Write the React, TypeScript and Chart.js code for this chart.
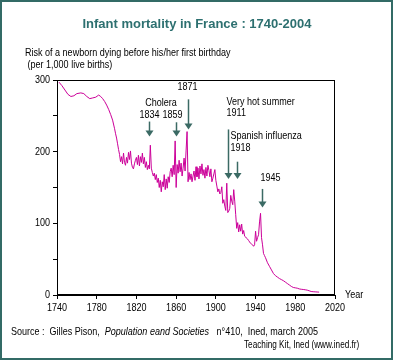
import { useEffect, useRef } from "react";
import { Chart, registerables } from "chart.js";

Chart.register(...registerables);

// ---- Data ----
const years = [
  1742, 1745, 1748, 1751, 1754, 1757, 1760, 1764, 1767, 1770, 1773, 1776, 1779, 1782, 1784, 1786, 1788, 1790, 1792, 1794, 1796, 1798, 1799,
  1800, 1801, 1802, 1803, 1804, 1805, 1806, 1807, 1808, 1809,
  1810, 1811, 1812, 1813, 1814, 1815, 1816, 1817, 1818, 1819,
  1820, 1821, 1822, 1823, 1824, 1825, 1826, 1827, 1828, 1829,
  1830, 1831, 1832, 1833, 1834, 1835, 1836, 1837, 1838, 1839,
  1840, 1841, 1842, 1843, 1844, 1845, 1846, 1847, 1848, 1849,
  1850, 1851, 1852, 1853, 1854, 1855, 1856, 1857, 1858, 1859,
  1860, 1861, 1862, 1863, 1864, 1865, 1866, 1867, 1868, 1869,
  1870, 1871, 1872, 1873, 1874, 1875, 1876, 1877, 1878, 1879,
  1880, 1881, 1882, 1883, 1884, 1885, 1886, 1887, 1888, 1889,
  1890, 1891, 1892, 1893, 1894, 1895, 1896, 1897, 1898, 1899,
  1900, 1901, 1902, 1903, 1904, 1905, 1906, 1907, 1908, 1909,
  1910, 1911, 1912, 1913, 1914, 1915, 1916, 1917, 1918, 1919,
  1920, 1921, 1922, 1923, 1924, 1925, 1926, 1927, 1928, 1929,
  1930, 1931, 1932, 1933, 1934, 1935, 1936, 1937, 1938, 1939,
  1940, 1941, 1942, 1943, 1944, 1945, 1946, 1947, 1948, 1949,
  1950, 1952, 1954, 1956, 1958, 1960, 1962, 1964, 1966, 1968,
  1970, 1972, 1974, 1976, 1978, 1980, 1982, 1984, 1986, 1988,
  1990, 1992, 1994, 1996, 1998, 2000, 2002, 2004,
];

const rates = [
  297, 292, 286, 280, 277, 278, 281, 282, 281, 277, 274, 275, 276, 279, 277, 274, 270, 265, 259, 252, 244, 232, 225,
  219, 211, 203, 196, 186, 193, 183, 198, 185, 181,
  192, 184, 199, 189, 201, 184, 178, 176, 183, 188,
  192, 182, 195, 180, 193, 185, 198, 183, 192, 178,
  186, 175, 181, 176, 209, 177, 171, 166, 170, 161,
  168, 157, 163, 150, 160, 144, 158, 151, 168, 147,
  162, 149, 165, 157, 172, 177, 165, 181, 168, 215,
  150, 182, 170, 188, 172, 184, 166, 177, 191, 173,
  201, 228, 158, 171, 161, 169, 158, 166, 173, 160,
  179, 165, 177, 162, 180, 169, 183, 167, 175, 163,
  178, 166, 181, 174, 165, 176, 158, 163, 169, 175,
  160, 152, 144, 148, 141, 143, 151, 128, 133, 124,
  118, 156, 115, 117, 121, 139, 131, 126, 147, 131,
  112, 93, 101, 88, 98, 89, 99, 85, 90, 82,
  81, 79, 78, 76, 74, 72, 71, 70, 68, 70,
  89, 75, 80, 84, 102, 114, 80, 70, 58, 55,
  52, 45, 40, 35, 30, 27, 25, 23, 21.5, 20,
  18, 16, 14, 12, 10.5, 10, 9.5, 8.5, 8, 7.7,
  7.3, 6.8, 5.9, 4.9, 4.6, 4.4, 4.2, 4.0,
];

const xTickValues = [1740, 1780, 1820, 1860, 1900, 1940, 1980, 2020];
const yTickValues = [0, 50, 100, 150, 200, 250, 300];
const yLabelledTicks = [0, 100, 200, 300];

// event arrows: x (year), arrow start value, arrow tip value
const eventYears = [1833, 1859.5, 1871.6, 1911.9, 1920.8, 1946.8];
const arrowTopValues = [242, 241, 273, 231, 186, 148];
const arrowTipValues = [221, 221, 231, 162, 162, 122];
const eventLabels = [
  ["1834"],
  ["1859"],
  ["1871"],
  ["Very hot summer", "1911"],
  ["Spanish influenza", "1918"],
  ["1945"],
];
const choleraLabel = "Cholera";

const titleText = "Infant mortality in France : 1740-2004";
const yTitleLines = ["Risk of a newborn dying before his/her first birthday", " (per 1,000 live births)"];
const xTitleText = "Year";
const sourceParts = ["Source :  Gilles Pison,  ", "Population eand Societies", "   n°410,  Ined, march 2005"];
const creditText = "Teaching Kit, Ined (www.ined.fr)";

const FONT = "'Liberation Sans', Arial, sans-serif";
const SX = 0.82; // narrow rendering of the small sans text
const ARROW = "#3b6a64";
const TEAL = "#2d7070";

function drawText(ctx: any, text: string, x: number, y: number, align: string, font: string) {
  ctx.save();
  ctx.font = font;
  const w = ctx.measureText(text).width * SX;
  const left = align === "center" ? x - w / 2 : align === "right" ? x - w : x;
  ctx.translate(left, y);
  ctx.scale(SX, 1);
  ctx.textAlign = "left";
  ctx.textBaseline = "middle";
  ctx.fillText(text, 0, 0);
  ctx.restore();
  return w;
}

const decorPlugin = {
  id: "decor",
  beforeDraw(chart: any) {
    const ctx = chart.ctx;
    ctx.save();
    ctx.fillStyle = "#ffffff";
    ctx.fillRect(0, 0, chart.width, chart.height);
    ctx.restore();
  },
  afterDraw(chart: any) {
    const { ctx, chartArea: a, scales } = chart;
    const x = scales.x;
    const y = scales.y;
    const f11 = `11px ${FONT}`;
    ctx.save();

    // plot frame
    ctx.strokeStyle = "#000";
    ctx.lineWidth = 1;
    ctx.strokeRect(Math.round(a.left) + 0.5, Math.round(a.top) + 0.5, Math.round(a.right - a.left) - 1, Math.round(a.bottom - a.top) - 1);

    // tick labels from the scales
    ctx.fillStyle = "#000";
    x.ticks.forEach((t: any) => {
      drawText(ctx, String(t.value), x.getPixelForValue(t.value), a.bottom + 13, "center", f11);
    });
    y.ticks.forEach((t: any) => {
      if (yLabelledTicks.includes(t.value)) {
        drawText(ctx, String(t.value), a.left - 7, y.getPixelForValue(t.value), "right", f11);
      }
    });

    // arrows
    ctx.fillStyle = ARROW;
    ctx.strokeStyle = ARROW;
    const pts = eventYears.map((yr, i) => ({
      x: Math.round(x.getPixelForValue(yr)) + 0.5,
      top: y.getPixelForValue(arrowTopValues[i]),
      tip: y.getPixelForValue(arrowTipValues[i]),
    }));
    pts.forEach((p) => {
      ctx.lineWidth = 1.5;
      ctx.beginPath();
      ctx.moveTo(p.x, p.top);
      ctx.lineTo(p.x, p.tip - 5);
      ctx.stroke();
      ctx.beginPath();
      ctx.moveTo(p.x - 4, p.tip - 6);
      ctx.lineTo(p.x + 4, p.tip - 6);
      ctx.lineTo(p.x, p.tip);
      ctx.closePath();
      ctx.fill();
    });

    // event labels
    ctx.fillStyle = "#000";
    const place = [
      { dx: 0, dy: [-7], align: "center" },
      { dx: -4, dy: [-7], align: "center" },
      { dx: -1, dy: [-12], align: "center" },
      { dx: -2, dy: [-27, -16], align: "left" },
      { dx: -7, dy: [-26, -14], align: "left" },
      { dx: -2, dy: [-11], align: "left" },
    ];
    eventLabels.forEach((lines, i) => {
      const p = pts[i];
      const pl = place[i];
      lines.forEach((t, j) => drawText(ctx, t, p.x + pl.dx, p.top + pl.dy[j], pl.align, f11));
    });
    drawText(ctx, choleraLabel, (pts[0].x + pts[1].x) / 2 - 2, pts[0].top - 19, "center", f11);

    // title
    ctx.fillStyle = TEAL;
    ctx.font = `bold 13px ${FONT}`;
    ctx.textAlign = "center";
    ctx.textBaseline = "middle";
    ctx.fillText(titleText, 197, 24);

    // y axis title
    ctx.fillStyle = "#000";
    drawText(ctx, yTitleLines[0], 25, 53, "left", f11);
    drawText(ctx, yTitleLines[1], 25, 65, "left", f11);

    // x axis title
    drawText(ctx, xTitleText, a.right + 10, a.bottom, "left", f11);

    // source
    let sx = 11;
    const sy = 332;
    sx += drawText(ctx, sourceParts[0], sx, sy, "left", f11);
    sx += drawText(ctx, sourceParts[1], sx, sy, "left", `italic 11px ${FONT}`);
    drawText(ctx, sourceParts[2], sx, sy, "left", f11);

    drawText(ctx, creditText, 244, 345, "left", `10px ${FONT}`);

    // outer border
    ctx.strokeStyle = "#336b66";
    ctx.lineWidth = 2;
    ctx.strokeRect(1, 1, chart.width - 2, chart.height - 2);

    ctx.restore();
  },
};

export default function App() {
  const ref = useRef<HTMLCanvasElement | null>(null);

  useEffect(() => {
    document.body.style.margin = "0";
    const canvas = ref.current;
    if (!canvas) return;
    const chart = new Chart(canvas, {
      type: "line",
      data: {
        datasets: [
          {
            data: years.map((yr, i) => ({ x: yr, y: rates[i] })),
            borderColor: "#cc0099",
            borderWidth: 1,
            pointRadius: 0,
            tension: 0,
            fill: false,
          },
        ],
      },
      options: {
        responsive: false,
        animation: false,
        devicePixelRatio: 1,
        layout: { padding: { left: 0, top: 80, right: 58, bottom: 0 } },
        plugins: { legend: { display: false }, tooltip: { enabled: false }, title: { display: false } },
        scales: {
          x: {
            type: "linear",
            min: 1740,
            max: 2020,
            afterFit: (s: any) => {
              s.height = 65;
            },
            afterBuildTicks: (s: any) => {
              s.ticks = xTickValues.map((v) => ({ value: v }));
            },
            ticks: { autoSkip: false, maxRotation: 0, callback: () => "" },
            grid: { drawOnChartArea: false, drawTicks: true, tickLength: 4, color: "#000" },
            border: { display: true, color: "#000" },
          },
          y: {
            type: "linear",
            min: 0,
            max: 300,
            afterFit: (s: any) => {
              s.width = 57;
            },
            afterBuildTicks: (s: any) => {
              s.ticks = yTickValues.map((v) => ({ value: v }));
            },
            ticks: { autoSkip: false, callback: () => "" },
            grid: { drawOnChartArea: false, drawTicks: true, tickLength: 4, color: "#000" },
            border: { display: true, color: "#000" },
          },
        },
      },
      plugins: [decorPlugin],
    });
    return () => chart.destroy();
  }, []);

  return (
    <div style={{ width: 393, height: 360 }}>
      <canvas ref={ref} width={393} height={360} style={{ display: "block", width: 393, height: 360 }} />
    </div>
  );
}
